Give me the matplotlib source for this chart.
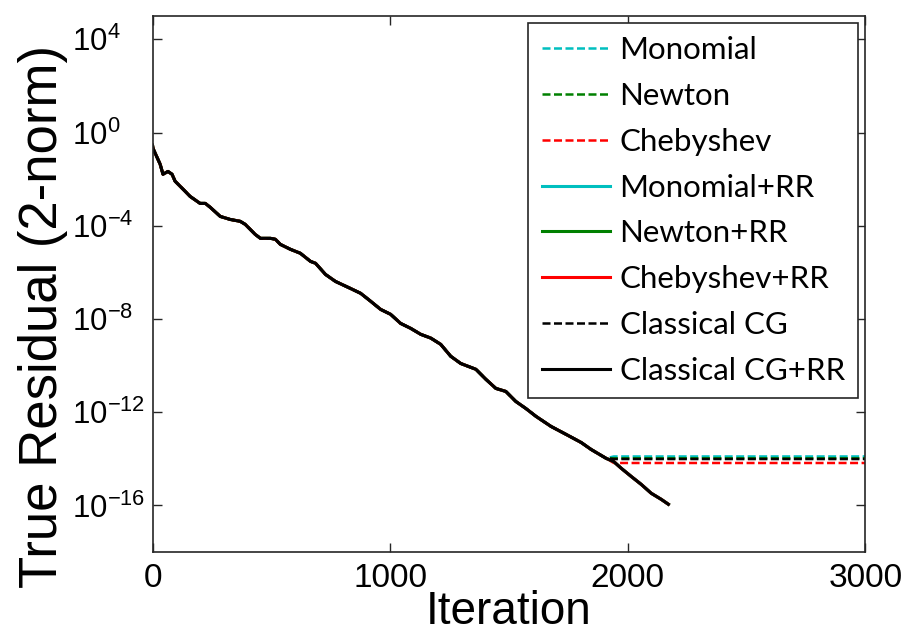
import matplotlib
matplotlib.use("Agg")
import matplotlib.pyplot as plt
import matplotlib.ticker as mticker
import numpy as np

# Shared convergence history (iteration, log10 of true residual).
iters_common = [0, 2, 32, 44, 65, 82, 95, 137, 158, 200, 222, 243, 285, 327, 369, 390,
                432, 454, 496, 517, 538, 580, 622, 665, 686, 728, 770, 833, 876, 918,
                960, 1002, 1044, 1086, 1129, 1171, 1213, 1255, 1297, 1361, 1403, 1445,
                1487, 1529, 1571, 1614, 1677, 1740, 1804, 1846, 1909, 1941]
log_common = [-0.55, -0.68, -1.36, -1.79, -1.67, -1.79, -2.09, -2.52, -2.74, -3.04, -3.04,
              -3.21, -3.60, -3.73, -3.81, -3.94, -4.37, -4.54, -4.54, -4.58, -4.80, -5.01,
              -5.18, -5.53, -5.61, -6.09, -6.39, -6.69, -6.90, -7.24, -7.59, -7.80, -8.19,
              -8.40, -8.66, -8.82, -9.09, -9.60, -9.91, -10.16, -10.59, -10.98, -11.11,
              -11.54, -11.84, -12.18, -12.61, -12.95, -13.30, -13.60, -13.98, -14.12]

# Tail of the residual-replacement runs
iters_rr_tail = [1973, 2015, 2057, 2099, 2141, 2171]
log_rr_tail = [-14.41, -14.76, -15.10, -15.48, -15.74, -15.95]

# Stagnation level of the runs without residual replacement
last_iter = 3000
plateau = {"Monomial": -13.90, "Newton": -13.98, "Chebyshev": -14.18, "Classical CG": -14.01}

labels = ["Monomial", "Newton", "Chebyshev", "Monomial+RR", "Newton+RR",
          "Chebyshev+RR", "Classical CG", "Classical CG+RR"]
colors = ["#00BFBF", "#008000", "#FF0000", "#00BFBF", "#008000", "#FF0000", "#000000", "#000000"]
styles = ["--", "--", "--", "-", "-", "-", "--", "-"]

plt.rcParams["font.family"] = ["Liberation Sans", "DejaVu Sans"]
plt.rcParams["axes.unicode_minus"] = False

fig = plt.figure(figsize=(9.08, 6.43), dpi=100)
ax = fig.add_axes([0.168, 0.1415, 0.785, 0.8336])

for label, color, style in zip(labels, colors, styles):
    if label.endswith("+RR"):
        x = iters_common + iters_rr_tail
        y = log_common + log_rr_tail
        lw = 2.2
    else:
        lvl = plateau[label]
        x = iters_common + [last_iter]
        y = log_common[:-1] + [lvl, lvl]
        lw = 1.8
    line, = ax.semilogy(x, 10.0 ** np.array(y), style, color=color, lw=lw, label=label)
    if style == "--":
        line.set_dashes((3.2, 1.4))

ax.set_xlim(0, 3000)
ax.set_ylim(1e-18, 1e5)
ax.xaxis.set_major_locator(mticker.FixedLocator([0, 1000, 2000, 3000]))
ax.yaxis.set_major_locator(mticker.FixedLocator(10.0 ** np.arange(-16, 5, 4)))
ax.yaxis.set_minor_locator(mticker.NullLocator())
ax.tick_params(which="both", direction="in", top=True, right=True, length=6.5,
               width=1.0, color="#262626")
ax.tick_params(axis="x", pad=8, labelsize=24)
ax.tick_params(axis="y", pad=58, labelsize=22.5)
fig.canvas.draw()
for lbl in ax.get_yticklabels():
    lbl.set_horizontalalignment("left")
for sp in ax.spines.values():
    sp.set_linewidth(1.2)
    sp.set_color("#262626")

ax.set_xlabel("Iteration", fontsize=33)
ax.xaxis.set_label_coords(0.5, -0.07)
ax.set_ylabel("True Residual (2-norm)", fontsize=38)
ax.yaxis.set_label_coords(-0.118, 0.44)

leg = ax.legend(loc="upper right", bbox_to_anchor=(858 / 908, (643 - 23) / 643),
                bbox_transform=fig.transFigure, borderaxespad=0,
                prop={"family": "Lato", "size": 22.5}, fancybox=False, framealpha=1,
                edgecolor="#262626", handlelength=2.2, handletextpad=0.3,
                labelspacing=0.57, borderpad=0.42)
leg.get_frame().set_linewidth(1.2)

fig.savefig("out.png", dpi=100)
